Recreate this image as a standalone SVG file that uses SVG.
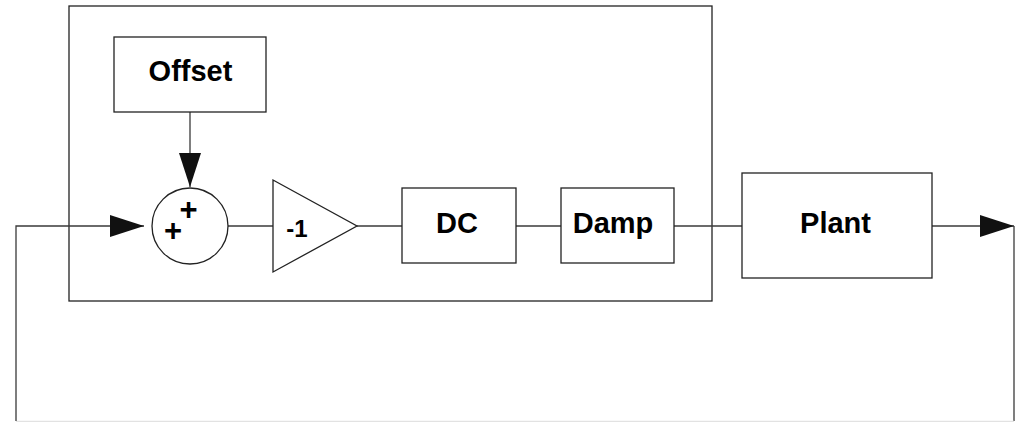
<svg xmlns="http://www.w3.org/2000/svg" width="1026" height="422" viewBox="0 0 1026 422">
  <style>
    .box { fill: #fff; stroke: #222; stroke-width: 1.3; }
    .frame { fill: none; stroke: #222; stroke-width: 1.3; }
    .wire { fill: none; stroke: #3a3a3a; stroke-width: 1.3; }
    .lbl { font-family: "Liberation Sans", Arial, sans-serif; font-weight: bold; font-size: 29px; fill: #000; text-anchor: middle; }
    .sign { font-family: "Liberation Sans", Arial, sans-serif; font-weight: bold; font-size: 31px; fill: #000; text-anchor: middle; }
  </style>
  <defs>
    <marker id="arrow" markerWidth="34" markerHeight="22" refX="34" refY="11" orient="auto" markerUnits="userSpaceOnUse">
      <path d="M0,0 L34,11 L0,22 Z" fill="#111"/>
    </marker>
  </defs>
  <rect width="1026" height="422" fill="#fff"/>

  <!-- controller subsystem frame -->
  <rect id="controller" class="frame" x="69" y="6" width="643" height="295"/>

  <g id="connectors">
    <!-- feedback loop -->
    <polyline class="wire" points="1014,226 1014,421" stroke="#222"/>
    <line x1="16" y1="421.5" x2="1014" y2="421.5" stroke="#e2e2e2" stroke-width="1.3"/>
    <polyline class="wire" points="16,421 16,226 144,226" stroke="#111" marker-end="url(#arrow)"/>
    <!-- offset into summing junction -->
    <line class="wire" x1="190" y1="112" x2="190" y2="187" marker-end="url(#arrow)"/>
    <!-- forward path -->
    <line class="wire" x1="228" y1="226" x2="273" y2="226"/>
    <line class="wire" x1="357" y1="226" x2="402" y2="226"/>
    <line class="wire" x1="516" y1="226" x2="561" y2="226"/>
    <line class="wire" x1="674" y1="226" x2="742" y2="226"/>
    <line class="wire" x1="932" y1="226" x2="1014" y2="226" marker-end="url(#arrow)"/>
  </g>

  <g id="offset">
    <rect class="box" x="114" y="37" width="152" height="75"/>
    <text class="lbl" x="190.5" y="81">Offset</text>
  </g>

  <g id="sum">
    <circle class="box" cx="190" cy="226" r="38"/>
    <text class="sign" x="188.5" y="220">+</text>
    <text class="sign" x="173" y="241">+</text>
  </g>

  <g id="gain">
    <polygon class="box" points="273,180 357,226 273,272"/>
    <text class="lbl" x="297" y="237" style="font-size:24px">-1</text>
  </g>

  <g id="dc">
    <rect class="box" x="402" y="188" width="114" height="75"/>
    <text class="lbl" x="457" y="233">DC</text>
  </g>

  <g id="damp">
    <rect class="box" x="561" y="188" width="113" height="75"/>
    <text class="lbl" x="613" y="233">Damp</text>
  </g>

  <g id="plant">
    <rect class="box" x="742" y="173" width="190" height="105"/>
    <text class="lbl" x="835.5" y="233">Plant</text>
  </g>
</svg>
